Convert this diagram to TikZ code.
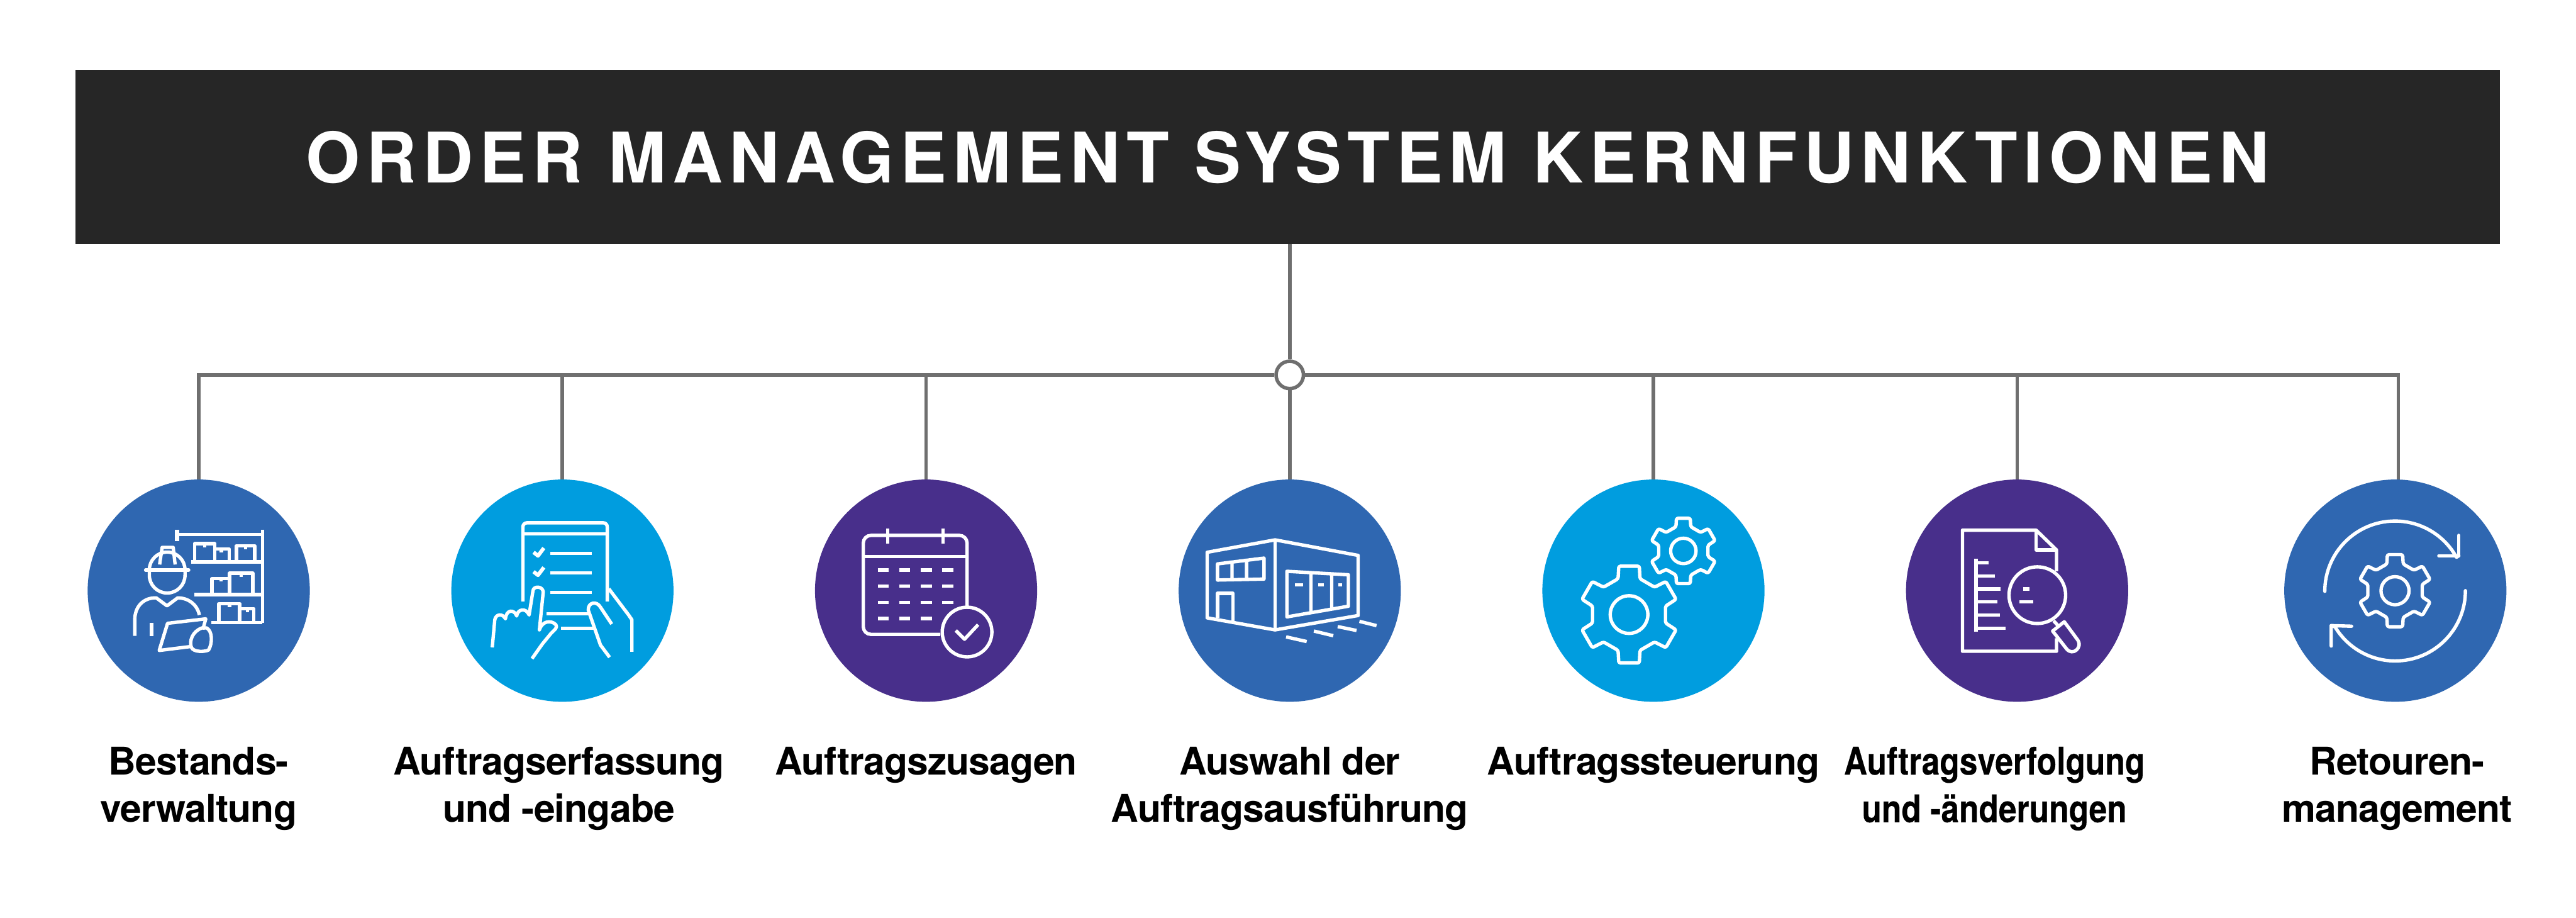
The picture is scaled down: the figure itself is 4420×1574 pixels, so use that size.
\documentclass[tikz,border=0pt]{standalone}
\usepackage{fontspec}
\usetikzlibrary{positioning}
\setmainfont[LetterSpace=-1.5]{TeX Gyre Heros}
\newfontfamily\titlefont[LetterSpace=9]{TeX Gyre Heros}
\newfontfamily\narrowfont[FakeStretch=0.85, FakeBold=0.2]{TeX Gyre Heros}
\definecolor{omsblue}{HTML}{2F67B1}
\definecolor{omscyan}{HTML}{009DDF}
\definecolor{omspurple}{HTML}{482F8B}
\definecolor{omsdark}{HTML}{262626}
\definecolor{omsgrey}{HTML}{6F6F6F}
\tikzset{
    disc/.style={circle, minimum size=3.81cm, inner sep=0pt, outer sep=0pt},
    lbl/.style={below=0.765cm of #1, anchor=north, inner sep=0pt, align=center, font=\fontsize{18.6}{23.2}\selectfont\bfseries},
    conn/.style={draw=omsgrey, line width=0.06cm},
    ic/.style={x=0.003333cm, y=-0.003333cm, draw=white, line width=0.058cm, line join=round},
}
% gear outline: centre, scale
\newcommand{\gearicon}[2]{
    \begin{scope}[shift={(#1)}, scale=#2]
        \draw[rounded corners=0.03cm] (13:193) \foreach \a in {30,90,...,330} {-- (\a-12:255) -- (\a+12:255) -- (\a+17:193) -- (\a+43:193)} -- cycle;
        \draw (0,0) circle[radius=97];
    \end{scope}
}
\begin{document}
\begin{tikzpicture}[x=0.01cm, y=-0.01cm]
    \useasboundingbox (0,0) rectangle (4420,1574);
    \node[fill=omsdark, minimum width=41.58cm, minimum height=2.99cm, inner sep=0pt, outer sep=0pt, text=white, font=\titlefont\fontsize{34}{40}\selectfont\bfseries] (title) at (2209.5,269.5) {\raisebox{-0.09cm}{ORDER MANAGEMENT SYSTEM KERNFUNKTIONEN}};
    \node[circle, draw=omsgrey, fill=white, line width=0.06cm, minimum size=0.47cm, inner sep=0pt] (hub) at (2213,643) {};

    \node[disc, fill=omsblue] (c1) at (341,1013) {};
    \node[disc, fill=omscyan] (c2) at (965,1013) {};
    \node[disc, fill=omspurple] (c3) at (1589,1013) {};
    \node[disc, fill=omsblue] (c4) at (2213,1013) {};
    \node[disc, fill=omscyan] (c5) at (2837,1013) {};
    \node[disc, fill=omspurple] (c6) at (3461,1013) {};
    \node[disc, fill=omsblue] (c7) at (4110,1013) {};

    \node[lbl=c1] (t1) {Bestands-\\verwaltung};
    \node[lbl=c2, xshift=-0.06cm] (t2) {Auftragserfassung\\und -eingabe};
    \node[lbl=c3] (t3) {Auftragszusagen};
    \node[lbl=c4] (t4) {Auswahl der\\Auftragsausführung};
    \node[lbl=c5] (t5) {Auftragssteuerung};
    \node[lbl=c6, xshift=-0.39cm, font=\narrowfont\fontsize{18.6}{23.2}\selectfont\bfseries] (t6) {Auftragsverfolgung\\und -änderungen};
    \node[lbl=c7, xshift=0.03cm] (t7) {Retouren-\\management};

    \draw[conn] (title.south -| hub.north) -- (hub.north);
    \draw[conn] (c4.north) -- (hub.south);
    \draw[conn] (c1.north) |- (hub.west);
    \draw[conn] (c2.north) |- (hub.west);
    \draw[conn] (c3.north) |- (hub.west);
    \draw[conn] (c5.north) |- (hub.east);
    \draw[conn] (c6.north) |- (hub.east);
    \draw[conn] ([xshift=0.05cm]c7.north) |- (hub.east);

    % worker and shelves
    \begin{scope}[shift={(190,860)}, ic]
        \draw (342,170) -- (782,170) (782,145) -- (782,625) (520,625) -- (782,625) (430,480) -- (782,480) (415,312) -- (782,312);
        \draw[line width=0.07cm] (342,145) -- (342,205);
        \draw (432,312) -- (432,218) -- (537,218) -- (537,312) (537,245) -- (610,245) -- (610,312) (648,312) -- (648,228) -- (742,228) -- (742,312);
        \draw (484,218) -- (484,236) (570,245) -- (570,262) (695,228) -- (695,245);
        \draw (522,480) -- (522,398) -- (612,398) -- (612,480) (612,398) -- (612,370) -- (732,370) -- (732,480);
        \draw (568,398) -- (568,413) (672,370) -- (672,390);
        \draw (558,625) -- (558,527) -- (665,527) -- (665,625) (665,553) -- (738,553) -- (738,625);
        \draw (612,527) -- (612,545) (705,553) -- (705,570);
        \draw[line cap=round] (180,353) -- (402,353);
        \draw (199,353) arc[start angle=180, end angle=360, radius=92];
        \draw (199,353) -- (199,380) arc[start angle=180, end angle=0, radius=92] -- (383,353);
        \draw (252,325) -- (265,237) -- (322,237) -- (332,325);
        \draw (124,693) -- (124,610) .. controls (124,540) and (170,495) .. (235,497) -- (290,538) -- (345,497) .. controls (400,497) and (445,530) .. (457,585);
        \draw (210,625) -- (210,693);
        \draw (475,660) -- (490,605) -- (293,628) -- (250,768) -- (410,748);
        \draw (470,652) .. controls (420,670) and (405,720) .. (415,750) .. controls (425,780) and (490,775) .. (505,765) .. controls (525,730) and (525,670) .. (495,652) -- cycle;
    \end{scope}

    % checklist in hands
    \begin{scope}[shift={(814,860)}, ic]
        \draw[rounded corners=0.07cm] (250,515) -- (250,110) -- (685,110) -- (685,515);
        \draw (250,168) -- (685,168);
        \draw[line width=0.065cm] (305,262) -- (328,280) -- (358,240) (305,362) -- (328,380) -- (358,340);
        \draw (390,268) -- (604,268) (390,368) -- (604,368) (390,468) -- (604,468) (372,578) -- (590,578) (445,654) -- (620,654);
        \draw (92,752) -- (105,610) .. controls (110,580) and (145,575) .. (160,605) .. controls (165,555) and (205,555) .. (218,590) .. controls (222,555) and (265,545) .. (282,585) -- (302,460) .. controls (305,435) and (350,435) .. (355,465) -- (335,662) .. controls (350,615) and (395,610) .. (420,635) .. controls (430,650) and (415,660) .. (395,680) -- (350,735) -- (297,810);
        \draw (812,775) -- (812,610) -- (795,585) -- (693,450);
        \draw (708,632) -- (650,545) .. controls (630,510) and (585,520) .. (587,560) -- (650,740) -- (697,803);
    \end{scope}

    % calendar
    \begin{scope}[shift={(1437,860)}, ic]
        \draw[rounded corners=0.13cm] (530,685) -- (133,685) -- (133,175) -- (668,175) -- (668,540);
        \draw (133,283) -- (668,283) (258,138) -- (258,218) (544,138) -- (544,218);
        \draw[dash pattern=on 0.19cm off 0.18cm] (207,354) -- (597,354) (207,437) -- (597,437) (207,520) -- (597,520) (207,603) -- (486,603);
        \draw (668,673) circle[radius=128];
        \draw (610,665) -- (655,710) -- (725,635);
    \end{scope}

    % warehouse
    \begin{scope}[shift={(2063,860)}, ic]
        \draw (375,198) -- (25,262) -- (25,600) -- (375,662) -- (803,588) -- (803,278) -- cycle;
        \draw (375,198) -- (375,662);
        \draw (78,322) -- (318,292) -- (318,400) -- (78,405) -- cycle (153,318) -- (153,400) (228,308) -- (228,400);
        \draw (78,600) -- (78,473) -- (157,473) -- (157,615);
        \draw (436,360) -- (753,378) -- (753,540) -- (436,595) -- cycle (560,370) -- (560,568) (667,375) -- (667,552);
        \draw (478,429) -- (518,429) (598,429) -- (628,429) (700,429) -- (720,429);
        \draw (432,698) -- (538,722) (575,668) -- (675,692) (698,645) -- (795,665) (810,618) -- (898,640);
    \end{scope}

    % two gears
    \begin{scope}[shift={(2686,860)}, ic]
        \gearicon{328,583}{1}
        \gearicon{608,255}{0.675}
    \end{scope}

    % document with magnifier
    \begin{scope}[shift={(3309,860)}, ic]
        \draw (660,360) -- (660,250) -- (555,148) -- (175,148) -- (175,772) -- (660,772) -- (660,705);
        \draw (555,148) -- (555,250) -- (660,250);
        \draw[line width=0.07cm] (245,295) -- (245,670);
        \draw (245,316) -- (310,316) (245,384) -- (342,384) (245,451) -- (372,451) (245,518) -- (354,518) (245,586) -- (367,586) (245,654) -- (396,654);
        \draw (561,483) circle[radius=146];
        \draw (487,451) -- (520,451) (468,518) -- (540,518);
        \draw (645,615) -- (672,645);
        \draw (640,668) -- (700,620) -- (770,715) .. controls (795,750) and (745,800) .. (712,760) -- cycle;
    \end{scope}

    % gear in return arrows
    \begin{scope}[shift={(3960,860)}, ic]
        \gearicon{449,460}{0.745}
        \draw[line cap=round] (87,463) arc[start angle=180, end angle=331, radius=362] -- (778,280);
        \draw[line cap=round] (778,175) -- (778,280) -- (675,280);
        \draw[line cap=round] (812,460) arc[start angle=0, end angle=149, radius=362] -- (120,640);
        \draw[line cap=round] (120,745) -- (120,640) -- (225,643);
    \end{scope}
\end{tikzpicture}
\end{document}
